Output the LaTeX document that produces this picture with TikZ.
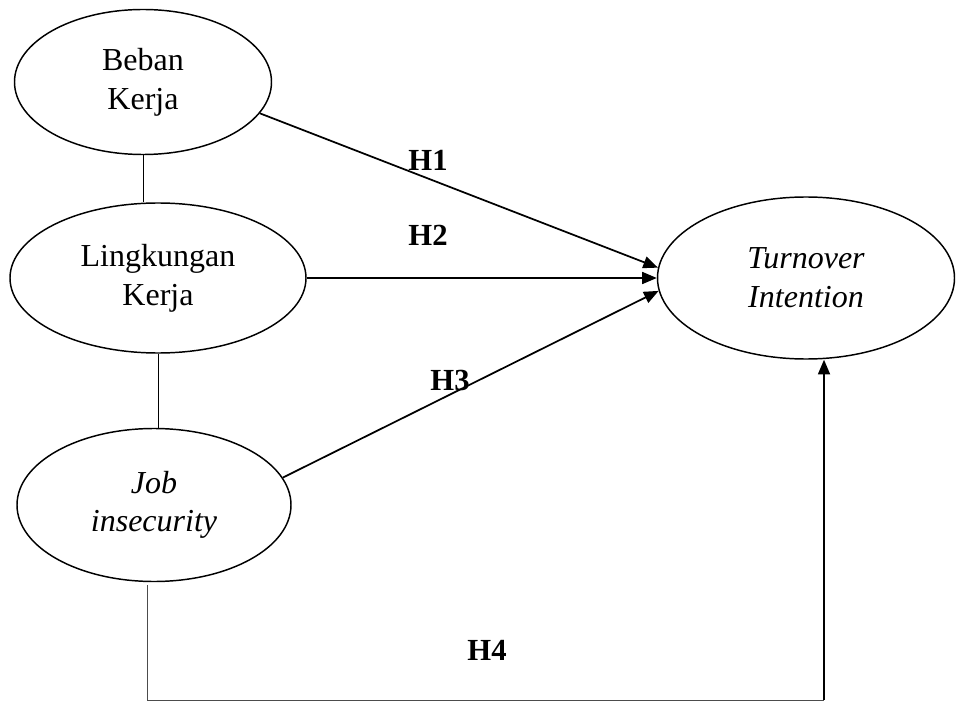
\documentclass[tikz,border=0pt]{standalone}
\usepackage{fontspec}
\setmainfont{Liberation Serif}
\usepackage{tikz}
\usetikzlibrary{shapes,arrows.meta}

\tikzset{
  latent/.style={ellipse, draw, line width=1.1pt, inner sep=0pt, align=center,
    font=\fontsize{24}{29}\selectfont},
  path/.style={line width=1.3pt, -{Triangle[length=11pt,width=9pt]}},
  link/.style={line width=0.5pt},
  hyp/.style={font=\fontsize{23}{27}\selectfont\bfseries}
}

\begin{document}
\begin{tikzpicture}[x=0.75pt, y=-0.75pt]
    \useasboundingbox (0,0) rectangle (956,702);

    % Constructs
    \node[latent, minimum width=192.75pt, minimum height=108.75pt] (beban) at (143,82) {Beban\\Kerja};
    \node[latent, minimum width=222pt, minimum height=112.5pt] (lingkungan) at (158,278) {Lingkungan\\Kerja};
    \node[latent, minimum width=205.5pt, minimum height=114.75pt] (job) at (154,505) {\itshape Job\\\itshape insecurity};
    \node[latent, minimum width=222.75pt, minimum height=121.5pt] (turnover) at (806,278) {\itshape Turnover\\\itshape Intention};

    % Links between predictors
    \draw[link] (beban.south) -- (beban.south |- lingkungan.north);
    \draw[link] (lingkungan.south) -- (lingkungan.south |- job.north);

    % Hypotheses
    \draw[path] (beban.-15) -- (turnover.176);
    \draw[path] (lingkungan.east) -- (turnover.west);
    \draw[path] (job.12) -- (turnover.185);

    \coordinate (start) at (147,585);
    \coordinate (corner) at (824,700);
    \draw[link, black!70] (start) |- (corner);
    \draw[path] (corner) -- (corner |- turnover.south);

    % Labels
    \node[hyp] (h1) at (428,160) {H1};
    \node[hyp] (h2) at (428,235) {H2};
    \node[hyp] (h3) at (450,380) {H3};
    \node[hyp] (h4) at (487,650) {H4};
\end{tikzpicture}
\end{document}
